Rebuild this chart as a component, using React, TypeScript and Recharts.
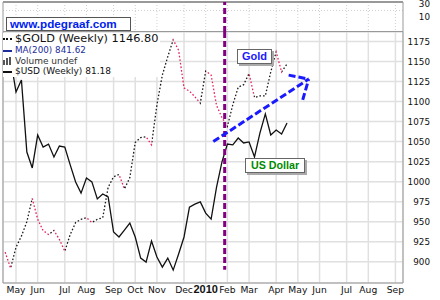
import { LineChart, Line, XAxis, YAxis, CartesianGrid, ReferenceLine } from "recharts";

// weekly closes, first bar = week 0 (late April 2009)
const goldClose = [
  912, 892, 918, 932, 950, 979, 953, 939, 934, 939, 928, 913, 934, 949, 953, 955, 949, 953,
  955, 993, 1006, 1009, 991, 1005, 1049, 1055, 1056, 1046, 1096, 1133, 1156, 1177, 1164, 1117,
  1113, 1106, 1098, 1138, 1133, 1095, 1080, 1069, 1096, 1118, 1121, 1135, 1105, 1107, 1107,
  1137, 1162, 1137, 1146.8,
];
const usdClose = [
  83.74, 84.16, 82.62, 83.18, 79.83, 79.09, 80.62, 80.06, 80.2, 79.6, 80.11, 80.06, 79.23,
  78.44, 77.92, 78.62, 78.44, 77.65, 77.88, 77.74, 76.11, 75.88, 76.2, 76.53, 75.88, 74.9,
  74.71, 75.69, 74.95, 74.48, 74.9, 74.34, 75.09, 75.88, 77.27, 77.41, 77.51, 76.99, 76.71,
  78.2, 79.37, 80.2, 80.16, 80.48, 80.25, 80.3, 79.6, 80.71, 81.6, 80.62, 80.85, 80.67, 81.18,
];
const monthTicks = [2, 6, 11, 15, 20, 24, 28, 33, 37, 41, 45, 50, 54, 58, 63, 67, 72];
const monthLabels = [
  "May", "Jun", "Jul", "Aug", "Sep", "Oct", "Nov", "Dec", "2010",
  "Feb", "Mar", "Apr", "May", "Jun", "Jul", "Aug", "Sep",
];
const goldTicks = [900, 925, 950, 975, 1000, 1025, 1050, 1075, 1100, 1125, 1150, 1175];
const volumeTicks = [10, 30];
const markerWeek = 40.5;
// trend arrow drawn on the chart: [week, gold] pairs
const arrowShaft = [[38.4, 1050], [56, 1128]];
const arrowHead1 = [[52.3, 1133], [56, 1128]];
const arrowHead2 = [[54.9, 1102], [56, 1128]];

const data = goldClose.map((gold, i) => ({ week: i, gold, usd: usdClose[i] }));

const xDomain: [number, number] = [-0.4, 73.4];
const goldDomain: [number, number] = [873.5, 1186.8];
const usdDomain: [number, number] = [73.74, 85.41];

const UP = "#1a1a1a";
const DOWN = "#e8205a";
const PURPLE = "#800080";
const BLUE = "#1a1aff";
const GRID = "#e0e0e0";
const FONT = "'DejaVu Sans', Verdana, sans-serif";

// hard colour stops: rising weeks black, falling weeks red
const last = goldClose.length - 1;
const goldStops = goldClose.slice(1).flatMap((v, k) => {
  const c = v < goldClose[k] ? DOWN : UP;
  return [
    { offset: k / last, color: c },
    { offset: (k + 1) / last, color: c },
  ];
});

function MonthTick({ x, y, payload, index }: any) {
  const label = monthLabels[index] ?? "";
  const bold = label === "2010";
  return (
    <text
      x={x}
      y={y + 10}
      textAnchor="middle"
      fill="#111"
      fontFamily={bold ? "'Liberation Sans', Arial, sans-serif" : FONT}
      fontSize={bold ? 11 : 9.2}
      fontWeight={bold ? "bold" : "normal"}
    >
      {label}
    </text>
  );
}

function PriceTick({ x, y, payload }: any) {
  return (
    <text x={x + 27} y={y + 3.2} textAnchor="end" fill="#111" fontFamily={FONT} fontSize={8.8}>
      {payload.value}
    </text>
  );
}

function Marker({ kind }: { kind: string }) {
  if (kind === "dots")
    return <span style={{ display: "inline-block", width: 9, borderTop: "2px dotted #111", verticalAlign: "middle", marginRight: 3 }} />;
  if (kind === "bars")
    return (
      <svg width={10} height={8} style={{ marginRight: 2, verticalAlign: "middle" }}>
        <rect x={0} y={3} width={2} height={5} fill="#555" />
        <rect x={3} y={1} width={2} height={7} fill="#555" />
        <rect x={6} y={0} width={2} height={8} fill="#555" />
      </svg>
    );
  return <span style={{ display: "inline-block", width: 9, borderTop: `2px solid ${kind}`, verticalAlign: "middle", marginRight: 3 }} />;
}

export default function App() {
  return (
    <div
      style={{
        position: "fixed",
        left: 0,
        top: 0,
        width: 440,
        height: 300,
        background: "#fff",
        fontFamily: FONT,
        overflow: "hidden",
      }}
    >
      {/* volume panel */}
      <div style={{ position: "absolute", left: 0, top: 0 }}>
        <LineChart width={440} height={32} data={data} margin={{ top: 2, right: 0, bottom: 0, left: 0 }}>
          <CartesianGrid
            yAxisId="vol"
            stroke="#cfcfcf"
            strokeDasharray="1 2"
            horizontalValues={[20]}
            verticalValues={monthTicks}
          />
          <XAxis dataKey="week" type="number" domain={xDomain} ticks={monthTicks} hide allowDataOverflow />
          <YAxis yAxisId="left" orientation="left" width={3} tick={false} tickLine={false} axisLine={{ stroke: "#999" }} />
          <YAxis
            yAxisId="vol"
            orientation="right"
            width={37}
            domain={[-13, 33]}
            ticks={volumeTicks}
            interval={0}
            tickSize={0}
            tickMargin={0}
            tick={<PriceTick />}
            axisLine={{ stroke: "#999" }}
            allowDataOverflow
          />
          <ReferenceLine yAxisId="vol" y={33} stroke="#999" strokeWidth={2} />
          <ReferenceLine yAxisId="vol" y={-13} stroke="#999" strokeWidth={2} />
          <ReferenceLine yAxisId="vol" x={markerWeek} stroke={PURPLE} strokeWidth={3} strokeDasharray="6 3" />
        </LineChart>
      </div>

      {/* price panel */}
      <div style={{ position: "absolute", left: 0, top: 32 }}>
        <LineChart width={440} height={268} data={data} margin={{ top: 0, right: 0, bottom: 0, left: 0 }}>
          <defs>
            <linearGradient id="goldUpDown" x1="0" y1="0" x2="1" y2="0">
              {goldStops.map((s, i) => (
                <stop key={i} offset={s.offset} stopColor={s.color} />
              ))}
            </linearGradient>
          </defs>
          <CartesianGrid yAxisId="gold" stroke={GRID} strokeWidth={1.5} />
          <XAxis
            dataKey="week"
            type="number"
            domain={xDomain}
            ticks={monthTicks}
            interval={0}
            height={17}
            tickSize={0}
            tickMargin={0}
            tick={<MonthTick />}
            axisLine={{ stroke: "#999" }}
            allowDataOverflow
          />
          <YAxis
            yAxisId="usd"
            orientation="left"
            width={3}
            domain={usdDomain}
            tick={false}
            tickLine={false}
            axisLine={{ stroke: "#999" }}
            allowDataOverflow
          />
          <YAxis
            yAxisId="gold"
            orientation="right"
            width={37}
            domain={goldDomain}
            ticks={goldTicks}
            interval={0}
            tickSize={0}
            tickMargin={0}
            tick={<PriceTick />}
            axisLine={{ stroke: "#999" }}
            allowDataOverflow
          />
          <Line
            yAxisId="gold"
            dataKey="gold"
            type="linear"
            stroke="url(#goldUpDown)"
            strokeWidth={1.3}
            strokeDasharray="1.6 2"
            dot={false}
            isAnimationActive={false}
          />
          <Line
            yAxisId="usd"
            dataKey="usd"
            type="linear"
            stroke="#111"
            strokeWidth={1.3}
            dot={false}
            isAnimationActive={false}
          />
          <ReferenceLine
            yAxisId="gold"
            segment={[{ x: markerWeek, y: goldDomain[1] }, { x: markerWeek, y: 890 }]}
            stroke={PURPLE}
            strokeWidth={3}
            strokeDasharray="6 3"
          />
          {[arrowShaft, arrowHead1, arrowHead2].map((seg, i) => (
            <ReferenceLine
              key={i}
              yAxisId="gold"
              segment={seg.map(([x, y]) => ({ x, y }))}
              stroke={BLUE}
              strokeWidth={3}
              strokeDasharray="7 3"
            />
          ))}
        </LineChart>
      </div>

      {/* site tag */}
      <div
        style={{
          position: "absolute",
          left: 6,
          top: 17,
          width: 120,
          height: 12,
          border: "1px solid #555",
          background: "#fff",
          color: "#0022ee",
          fontFamily: "'Liberation Sans', Arial, sans-serif",
          fontWeight: "bold",
          fontSize: 11.7,
          lineHeight: "12px",
          paddingLeft: 3,
          boxSizing: "content-box",
        }}
      >
        www.pdegraaf.com
      </div>

      {/* legend */}
      <div
        style={{
          position: "absolute",
          left: 3,
          top: 33,
          background: "#fff",
          whiteSpace: "nowrap",
          lineHeight: "10.5px",
          paddingRight: 2,
        }}
      >
        <div style={{ fontSize: 11.3, color: "#111", lineHeight: "12px" }}>
          <Marker kind="dots" />$GOLD (Weekly) 1146.80
        </div>
        <div style={{ fontSize: 8.8, color: "#1c2c9c" }}>
          <Marker kind="#1c2c9c" />MA(200) 841.62
        </div>
        <div style={{ fontSize: 9, color: "#333" }}>
          <Marker kind="bars" />Volume undef
        </div>
        <div style={{ fontSize: 9, color: "#111" }}>
          <Marker kind="#111" />$USD (Weekly) 81.18
        </div>
      </div>

      {/* annotations */}
      <div
        style={{
          position: "absolute",
          left: 237,
          top: 49,
          width: 33,
          height: 13,
          border: "1px solid #666",
          boxShadow: "2px 2px 0 #aaa",
          background: "#fff",
          color: "#1a1aff",
          fontFamily: "'Liberation Sans', Arial, sans-serif",
          fontWeight: "bold",
          fontSize: 11,
          lineHeight: "13px",
          textAlign: "center",
        }}
      >
        Gold
      </div>
      <div
        style={{
          position: "absolute",
          left: 245,
          top: 158,
          width: 58,
          height: 13,
          border: "1px solid #666",
          boxShadow: "2px 2px 0 #aaa",
          background: "#fff",
          color: "#008a00",
          fontFamily: "'Liberation Sans', Arial, sans-serif",
          fontWeight: "bold",
          fontSize: 10.7,
          lineHeight: "13px",
          textAlign: "center",
        }}
      >
        US Dollar
      </div>
    </div>
  );
}
